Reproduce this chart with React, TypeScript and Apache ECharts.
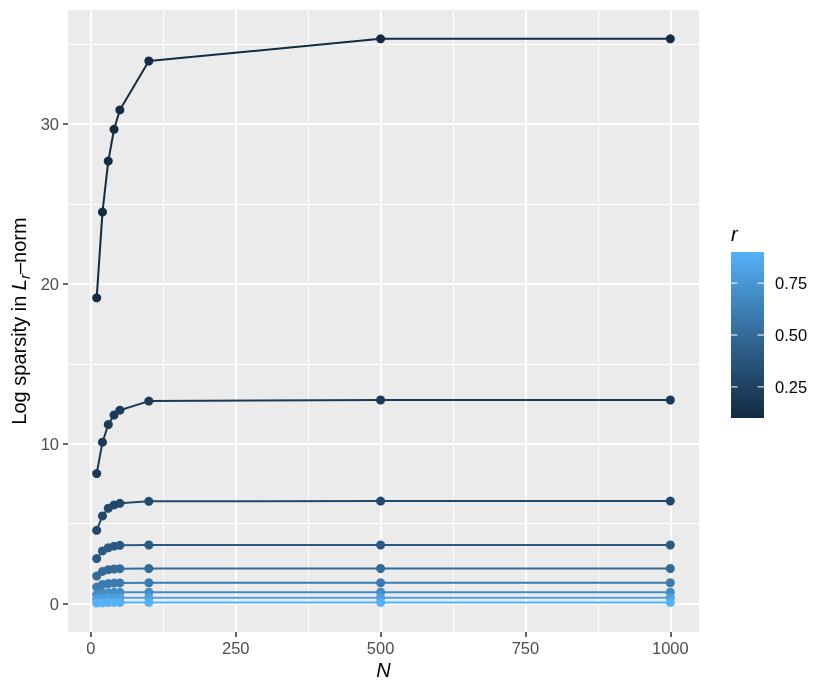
import React, { useEffect, useRef } from "react";
import * as echarts from "echarts";

// ---------- data ----------
const N_VALUES = [10, 20, 30, 40, 50, 100, 500, 1000];
const R_VALUES = [0.1, 0.2, 0.3, 0.4, 0.5, 0.6, 0.7, 0.8, 0.9];
const S_R01 = [19.13, 24.49, 27.68, 29.67, 30.88, 33.94, 35.33, 35.33];
const S_R02 = [8.14, 10.1, 11.2, 11.8, 12.1, 12.67, 12.74, 12.74];
const S_R03 = [4.59, 5.49, 5.97, 6.18, 6.28, 6.4, 6.42, 6.42];
const S_R04 = [2.82, 3.3, 3.5, 3.6, 3.65, 3.67, 3.67, 3.67];
const S_R05 = [1.73, 2.02, 2.13, 2.17, 2.19, 2.2, 2.2, 2.2];
const S_R06 = [1.04, 1.2, 1.26, 1.29, 1.3, 1.31, 1.31, 1.31];
const S_R07 = [0.58, 0.66, 0.69, 0.71, 0.71, 0.72, 0.72, 0.72];
const S_R08 = [0.3, 0.34, 0.36, 0.37, 0.37, 0.37, 0.37, 0.37];
const S_R09 = [0.04, 0.06, 0.07, 0.08, 0.08, 0.08, 0.08, 0.08];
const SERIES_VALUES = [S_R01, S_R02, S_R03, S_R04, S_R05, S_R06, S_R07, S_R08, S_R09];

const X_MAJOR = [0, 250, 500, 750, 1000];
const X_MINOR = [125, 375, 625, 875];
const Y_MAJOR = [0, 10, 20, 30];
const Y_MINOR = [5, 15, 25, 35];
const LEGEND_TICKS = [0.25, 0.5, 0.75];
const R_MIN = 0.1;
const R_MAX = 0.9;
const LOW_COLOR = "#132B43";
const HIGH_COLOR = "#56B1F7";

// ---------- colour (CIELAB interpolation like ggplot) ----------
function hexToRgb(h: string) {
  const v = parseInt(h.slice(1), 16);
  return [(v >> 16) & 255, (v >> 8) & 255, v & 255];
}
const toLin = (c: number) => {
  c /= 255;
  return c <= 0.04045 ? c / 12.92 : Math.pow((c + 0.055) / 1.055, 2.4);
};
const fromLin = (c: number) => {
  const v = c <= 0.0031308 ? 12.92 * c : 1.055 * Math.pow(c, 1 / 2.4) - 0.055;
  return Math.round(Math.max(0, Math.min(1, v)) * 255);
};
const Xn = 0.95047, Yn = 1.0, Zn = 1.08883;
const fLab = (t: number) => (t > 0.008856 ? Math.cbrt(t) : 7.787 * t + 16 / 116);
const fInv = (t: number) => (t > 0.206893 ? t * t * t : (t - 16 / 116) / 7.787);
function rgbToLab(rgb: number[]) {
  const [r, g, b] = rgb.map(toLin);
  const X = 0.4124564 * r + 0.3575761 * g + 0.1804375 * b;
  const Y = 0.2126729 * r + 0.7151522 * g + 0.072175 * b;
  const Z = 0.0193339 * r + 0.119192 * g + 0.9503041 * b;
  const fx = fLab(X / Xn), fy = fLab(Y / Yn), fz = fLab(Z / Zn);
  return [116 * fy - 16, 500 * (fx - fy), 200 * (fy - fz)];
}
function labToHex(lab: number[]) {
  const fy = (lab[0] + 16) / 116;
  const fx = fy + lab[1] / 500;
  const fz = fy - lab[2] / 200;
  const X = fInv(fx) * Xn, Y = fInv(fy) * Yn, Z = fInv(fz) * Zn;
  const r = 3.2404542 * X - 1.5371385 * Y - 0.4985314 * Z;
  const g = -0.969266 * X + 1.8760108 * Y + 0.041556 * Z;
  const b = 0.0556434 * X - 0.2040259 * Y + 1.0572252 * Z;
  const h = (n: number) => fromLin(n).toString(16).padStart(2, "0");
  return "#" + h(r) + h(g) + h(b);
}
const LAB_LOW = rgbToLab(hexToRgb(LOW_COLOR));
const LAB_HIGH = rgbToLab(hexToRgb(HIGH_COLOR));
function colorFor(r: number) {
  const t = (r - R_MIN) / (R_MAX - R_MIN);
  return labToHex(LAB_LOW.map((v, i) => v + (LAB_HIGH[i] - v) * t));
}

const FONT = "Liberation Sans, Arial, Helvetica, sans-serif";

export default function App() {
  const ref = useRef<HTMLDivElement>(null);
  useEffect(() => {
    if (!ref.current) return;
    const chart = echarts.init(ref.current, undefined, { renderer: "svg" });

    const panel = { left: 68, right: 699, top: 10, bottom: 632 };
    const bar = { x: 731, y: 252, w: 33, h: 166 };
    const rToY = (r: number) => bar.y + bar.h - ((r - R_MIN) / (R_MAX - R_MIN)) * bar.h;

    const stops = [];
    for (let i = 0; i <= 20; i++) {
      const t = i / 20;
      stops.push({ offset: t, color: colorFor(R_MIN + t * (R_MAX - R_MIN)) });
    }

    const graphics: any[] = [
      {
        type: "rect",
        shape: { x: bar.x, y: bar.y, width: bar.w, height: bar.h },
        style: {
          fill: new echarts.graphic.LinearGradient(0, 1, 0, 0, stops),
        },
        silent: true,
      },
      {
        type: "text",
        x: 731,
        y: 234,
        style: { text: "r", font: `italic 20px ${FONT}`, fill: "#000", verticalAlign: "middle", align: "left" },
      },
      {
        type: "text",
        x: 383.5,
        y: 670,
        style: { text: "N", font: `italic 20px ${FONT}`, fill: "#000", verticalAlign: "middle", align: "center" },
      },
      {
        type: "text",
        x: 19,
        y: 321,
        rotation: Math.PI / 2,
        style: {
          text: "{a|Log sparsity in }{i|L}{s|r}{a|–norm}",
          align: "center",
          verticalAlign: "middle",
          rich: {
            a: { fontSize: 20, fontFamily: FONT, color: "#000", lineHeight: 26, verticalAlign: "middle" },
            i: { fontSize: 20, fontFamily: FONT, fontStyle: "italic", color: "#000", lineHeight: 26, verticalAlign: "middle" },
            s: { fontSize: 15, fontFamily: FONT, fontStyle: "italic", color: "#000", lineHeight: 14, verticalAlign: "bottom" },
          },
        },
      },
    ];
    LEGEND_TICKS.forEach((r) => {
      const y = rToY(r);
      graphics.push(
        { type: "line", shape: { x1: bar.x, y1: y, x2: bar.x + 6.5, y2: y }, style: { stroke: "#fff", lineWidth: 1 } },
        { type: "line", shape: { x1: bar.x + bar.w - 6.5, y1: y, x2: bar.x + bar.w, y2: y }, style: { stroke: "#fff", lineWidth: 1 } },
        {
          type: "text",
          x: 775,
          y,
          style: { text: r.toFixed(2), font: `16.5px ${FONT}`, fill: "#000", verticalAlign: "middle", align: "left" },
        }
      );
    });

    const series = R_VALUES.map((r, i) => ({
      type: "line",
      name: "r=" + r,
      data: N_VALUES.map((n, j) => [n, SERIES_VALUES[i][j]]),
      symbol: "circle",
      symbolSize: 9,
      showSymbol: true,
      itemStyle: { color: colorFor(r) },
      lineStyle: { color: colorFor(r), width: 2 },
      emphasis: { disabled: true },
      silent: true,
    }));

    const xMin = -39.5, xMax = 1049.5;
    const yMin = -1.77, yMax = 37.13;
    const plain = (v: number) => String(v);

    chart.setOption({
      animation: false,
      graphic: graphics,
      grid: {
        left: panel.left,
        top: panel.top,
        width: panel.right - panel.left,
        height: panel.bottom - panel.top,
        show: true,
        backgroundColor: "#EBEBEB",
        borderWidth: 0,
        containLabel: false,
        outerBoundsMode: "none",
      },
      xAxis: [
        {
          type: "value",
          min: xMin,
          max: xMax,
          position: "bottom",
          axisLine: { show: false, onZero: false },
          axisTick: { show: true, length: 5, customValues: X_MAJOR, lineStyle: { color: "#333", width: 1.5 } },
          axisLabel: { customValues: X_MAJOR, formatter: plain, color: "#4D4D4D", fontSize: 16.5, fontFamily: FONT, margin: 7 },
          splitLine: { show: true, lineStyle: { color: "#fff", width: 2 } },
          z: 1,
        },
        {
          type: "value",
          min: xMin,
          max: xMax,
          position: "top",
          axisLine: { show: false, onZero: false },
          axisTick: { show: false, customValues: X_MINOR },
          axisLabel: { show: false, customValues: X_MINOR },
          splitLine: { show: true, lineStyle: { color: "#fff", width: 1 } },
          z: 0,
        },
      ],
      yAxis: [
        {
          type: "value",
          min: yMin,
          max: yMax,
          position: "left",
          axisLine: { show: false, onZero: false },
          axisTick: { show: true, length: 5, customValues: Y_MAJOR, lineStyle: { color: "#333", width: 1.5 } },
          axisLabel: { customValues: Y_MAJOR, formatter: plain, color: "#4D4D4D", fontSize: 16.5, fontFamily: FONT, margin: 9 },
          splitLine: { show: true, lineStyle: { color: "#fff", width: 2 } },
          z: 1,
        },
        {
          type: "value",
          min: yMin,
          max: yMax,
          position: "right",
          axisLine: { show: false, onZero: false },
          axisTick: { show: false, customValues: Y_MINOR },
          axisLabel: { show: false, customValues: Y_MINOR },
          splitLine: { show: true, lineStyle: { color: "#fff", width: 1 } },
          z: 0,
        },
      ],
      series,
    });
    return () => chart.dispose();
  }, []);
  return <div ref={ref} style={{ position: "fixed", left: 0, top: 0, width: 830, height: 692 }} />;
}
